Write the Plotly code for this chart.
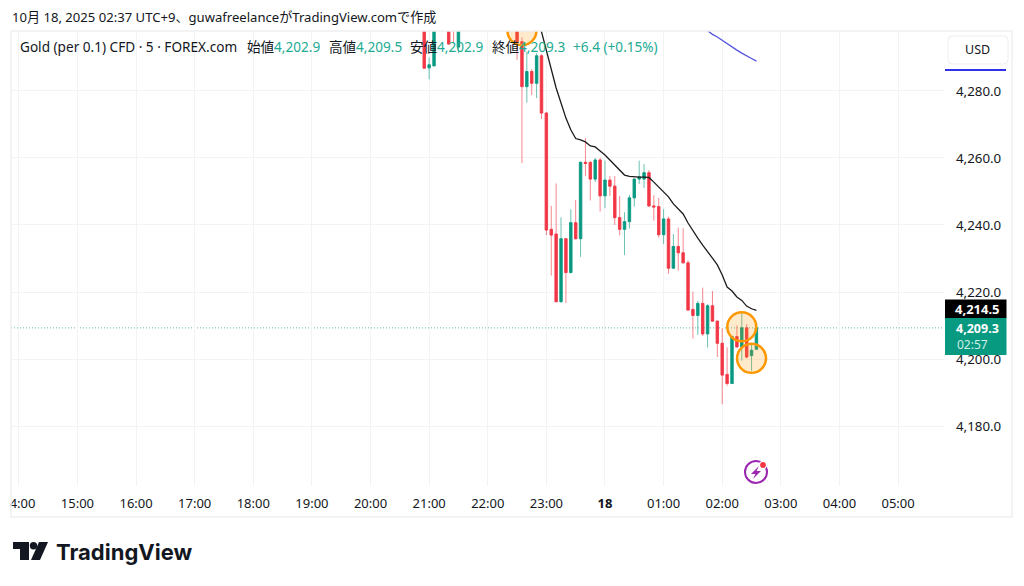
import plotly.graph_objects as go

# ---- data ----
candle_times = ["17 20:55","17 21:00","17 21:05","17 21:20","17 21:25","17 21:30","17 22:30","17 22:35","17 22:40","17 22:45","17 22:50","17 22:55",
 "17 23:00","17 23:05","17 23:10","17 23:15","17 23:20","17 23:25","17 23:30","17 23:35","17 23:40","17 23:45","17 23:50","17 23:55",
 "18 00:00","18 00:05","18 00:10","18 00:15","18 00:20","18 00:25","18 00:30","18 00:35","18 00:40","18 00:45","18 00:50","18 00:55",
 "18 01:00","18 01:05","18 01:10","18 01:15","18 01:20","18 01:25","18 01:30","18 01:35","18 01:40","18 01:45","18 01:50","18 01:55",
 "18 02:00","18 02:05","18 02:10","18 02:15","18 02:20","18 02:25","18 02:30","18 02:35"]
opens = [4310,4286.9,4287.5,4310,4305,4293.1,4310,4294.7,4281.3,4285.8,4282.3,4290.5,
 4273.4,4238.7,4237.3,4217.1,4235.9,4225.8,4240.7,4235.9,4258.7,4258.7,4253.7,4259.4,
 4248.7,4253.4,4251.6,4242.2,4238.7,4241.0,4248.1,4253.7,4253.7,4255.6,4245.7,4245.5,
 4237.1,4241.8,4227.1,4233.6,4231.7,4228.7,4214.8,4213.0,4216.6,4207.5,4215.9,4211.3,
 4204.7,4195.4,4192.7,4206.7,4203.6,4209.3,4201.0,4202.9]
highs = [4315,4290,4312,4312,4310,4310,4312,4296,4291.7,4286.5,4291.3,4291,
 4273.8,4245.7,4252.4,4242.3,4236,4244.7,4247.5,4258.9,4265.9,4259,4260,4260,
 4259.2,4254.6,4254.6,4248.7,4243.8,4249,4253.9,4259.2,4258.2,4256.4,4248.9,4248.1,
 4244.7,4242.5,4237.3,4239.2,4239.0,4229.5,4220.1,4217.3,4221.3,4216.4,4220.3,4211.5,
 4209.2,4203.5,4207,4210,4214.3,4210.4,4204.2,4209.5]
lows = [4286.8,4283.5,4287.3,4293.8,4294.3,4291.3,4289.3,4258.5,4276.5,4278.8,4277.9,4271.6,
 4237.0,4224.9,4217.0,4216.9,4216.7,4225.6,4235.7,4230.5,4254.6,4247.3,4252.8,4244.0,
 4245.0,4248.7,4240.0,4236.9,4231.0,4238.9,4245.5,4252.2,4251.0,4245.3,4241.3,4236.2,
 4234.3,4225.4,4227.0,4226.4,4228.6,4214.5,4206.1,4207.2,4206.9,4203.4,4211.2,4200.6,
 4186.5,4192.0,4192.6,4203.5,4199.5,4200.2,4196.5,4202.9]
closes = [4286.8,4287.8,4310,4294.0,4300,4308,4294.7,4281.3,4285.8,4282.3,4290.5,4273.4,
 4238.5,4237.0,4217.1,4235.9,4225.8,4240.7,4235.9,4258.7,4258.4,4253.7,4259.4,4248.7,
 4253.4,4251.6,4242.2,4238.7,4241.0,4248.1,4253.7,4254.4,4255.6,4245.7,4245.4,4237.1,
 4241.8,4227.1,4233.6,4231.7,4228.7,4214.6,4213.0,4216.6,4207.5,4215.9,4211.3,4204.7,
 4195.2,4192.7,4206.7,4203.6,4209.3,4200.6,4202.6,4209.3]

ma_black_times = ["17 22:50","17 22:55","17 23:00","17 23:05","17 23:10","17 23:15","17 23:20","17 23:25","17 23:30","17 23:35","17 23:40","17 23:45","17 23:50","17 23:55",
 "18 00:00","18 00:05","18 00:10","18 00:15","18 00:20","18 00:25","18 00:30","18 00:35","18 00:40","18 00:45","18 00:50","18 00:55",
 "18 01:00","18 01:05","18 01:10","18 01:15","18 01:20","18 01:25","18 01:30","18 01:35","18 01:40","18 01:45","18 01:50","18 01:55",
 "18 02:00","18 02:05","18 02:10","18 02:15","18 02:20","18 02:25","18 02:30","18 02:35"]
ma_black = [4303.3,4297.7,4291.3,4286.3,4280.9,4276.4,4271.9,4268.4,4265.8,4265.4,4264.8,4263.6,4263.3,4262.1,
 4260.9,4259.4,4257.9,4256.4,4254.9,4254.5,4254.3,4254.3,4254.3,4254.2,4252.8,4251.3,
 4250.1,4248.4,4246.3,4244.8,4243.3,4240.6,4238.2,4236.1,4234.0,4231.9,4230.1,4228.1,
 4225.1,4221.5,4220.3,4218.5,4217.5,4215.8,4215.0,4214.5]
ma_blue_times = ["18 01:40","18 01:45","18 01:50","18 01:55","18 02:00","18 02:05","18 02:10","18 02:15","18 02:20","18 02:25","18 02:30","18 02:35"]
ma_blue = [4299.1,4297.9,4296.9,4296.1,4295.1,4294.0,4293.1,4292.2,4291.3,4290.4,4289.7,4288.9]

circle_times = ["17 22:35","18 02:20","18 02:30"]
circle_prices = [4298.0,4209.6,4200.2]

price_ticks = [4180,4200,4220,4240,4260,4280]
hour_ticks = ["17 14:00","17 15:00","17 16:00","17 17:00","17 18:00","17 19:00","17 20:00","17 21:00","17 22:00","17 23:00",
              "18 00:00","18 01:00","18 02:00","18 03:00","18 04:00","18 05:00"]
hour_labels = ["14:00","15:00","16:00","17:00","18:00","19:00","20:00","21:00","22:00","23:00",
               "<b>18</b>","01:00","02:00","03:00","04:00","05:00"]

title_text = "10月 18, 2025 02:37 UTC+9、guwafreelanceがTradingView.comで作成"
symbol_text = "Gold (per 0.1) CFD · 5 · FOREX.com"
ohlc_labels = ["始値","高値","安値","終値"]
ohlc_values = ["4,202.9","4,209.5","4,202.9","4,209.3"]
change_text = "+6.4 (+0.15%)"
last_price = 4209.3

# ---- style ----
RED, GREEN = "#f23645", "#089981"
INK = "#131722"
FONT = "Noto Sans, Noto Sans CJK JP, sans-serif"
L, R, T, B = 11, 944, 31, 486   # plot box in page pixels
W, H = 1024, 586

def d(s):
    return "2025-10-" + s
def px(x):
    return (x - L) / (R - L)
def py(y):
    return (B - y) / (B - T)

fig = go.Figure()
t = [d(s) for s in candle_times]
fig.add_trace(go.Candlestick(x=t, open=opens, high=highs, low=lows, close=closes, whiskerwidth=0,
    increasing=dict(line=dict(color="rgba(8,153,129,0.6)", width=1), fillcolor="rgba(0,0,0,0)"),
    decreasing=dict(line=dict(color="rgba(242,54,69,0.6)", width=1), fillcolor="rgba(0,0,0,0)"),
    hoverinfo="skip", showlegend=False))
fig.add_trace(go.Candlestick(x=t, open=opens, close=closes,
    high=[max(o, c) for o, c in zip(opens, closes)], low=[min(o, c) for o, c in zip(opens, closes)],
    whiskerwidth=0,
    increasing=dict(line=dict(color=GREEN, width=0.6), fillcolor=GREEN),
    decreasing=dict(line=dict(color=RED, width=0.6), fillcolor=RED),
    hoverinfo="skip", showlegend=False))
fig.add_trace(go.Scatter(x=[d(s) for s in ma_blue_times], y=ma_blue, mode="lines",
    line=dict(color="#5555e0", width=1.3), hoverinfo="skip", showlegend=False))
fig.add_trace(go.Scatter(x=[d(s) for s in ma_black_times], y=ma_black, mode="lines",
    line=dict(color="#1c1c1c", width=1.3), hoverinfo="skip", showlegend=False))
fig.add_trace(go.Scatter(x=[d(s) for s in circle_times], y=circle_prices, mode="markers",
    marker=dict(size=29, color="rgba(255,152,0,0.2)", line=dict(color="#ff9800", width=2.5)),
    hoverinfo="skip", showlegend=False))

def rect(x0, y0, x1, y1, fill="rgba(0,0,0,0)", line=None, lw=0):
    return dict(type="rect", xref="paper", yref="paper", x0=px(x0), x1=px(x1), y0=py(y0), y1=py(y1),
                fillcolor=fill, line=dict(color=line or "rgba(0,0,0,0)", width=lw), layer="above")
def poly(points, fill):
    p = "M" + " L".join(f"{px(x):.5f},{py(y):.5f}" for x, y in points) + " Z"
    return dict(type="path", xref="paper", yref="paper", path=p, fillcolor=fill, line=dict(width=0), layer="above")
def circ(cx, cy, r, fill="rgba(0,0,0,0)", line=None, lw=0):
    return dict(type="circle", xref="paper", yref="paper", x0=px(cx-r), x1=px(cx+r), y0=py(cy+r), y1=py(cy-r),
                fillcolor=fill, line=dict(color=line or "rgba(0,0,0,0)", width=lw), layer="above")

shapes = [
    rect(0, 490, L-1, 516, fill="white"),                  # cuts the first hour label at the pane edge
    rect(L, 31, 1012, 517, line="#efefef", lw=1.5),
    dict(type="line", xref="paper", yref="y", x0=0, x1=1, y0=last_price, y1=last_price,
         line=dict(color="rgba(8,153,129,0.65)", width=1, dash="1px,2px"), layer="below"),
    rect(945, 299.5, 1006.5, 318, fill="#000000"),
    rect(945, 318, 1006.5, 355, fill=GREEN),
    rect(945, 69, 1006, 71, fill="#3030e6"),
    dict(type="path", xref="paper", yref="paper",
         path=f"M{px(952)},{py(36)} L{px(1004)},{py(36)} Q{px(1008)},{py(36)} {px(1008)},{py(40)} "
              f"L{px(1008)},{py(60)} Q{px(1008)},{py(64)} {px(1004)},{py(64)} L{px(952)},{py(64)} "
              f"Q{px(948)},{py(64)} {px(948)},{py(60)} L{px(948)},{py(40)} Q{px(948)},{py(36)} {px(952)},{py(36)} Z",
         fillcolor="white", line=dict(color="#eeeeee", width=1), layer="above"),
    # TradingView mark
    poly([(13,542),(29,542),(29,560),(20,560),(20,549),(13,549)], INK),
    circ(33.5, 545.7, 3.7, fill=INK),
    poly([(39,542),(48,542),(40,560),(31,560)], INK),
    # lightning badge
    circ(756, 472, 11, line="#9c27b0", lw=2),
    poly([(759,466),(751,474),(755.5,474),(753,479),(761,471),(756.5,471)], "#9c27b0"),
    circ(763, 465, 4.2, fill="white"),
    circ(763, 465, 2.9, fill=RED),
]

def note(x, y, text, color=INK, size=13.6, anchor="left", bold=False, family=FONT):
    return dict(xref="paper", yref="paper", x=px(x), y=py(y), text=f"<b>{text}</b>" if bold else text,
                showarrow=False, xanchor=anchor, yanchor="middle", align=anchor,
                font=dict(color=color, size=size, family=family), borderpad=0, borderwidth=0)

TEAL = "#22ab94"
notes = [
    note(12, 17, title_text, size=13.1),
    note(20, 47, symbol_text),
    note(573, 47, change_text, color=TEAL),
    note(978, 50, "USD", size=12.5, anchor="center"),
    note(978, 309, "4,214.5", color="white", anchor="center", bold=True, size=13),
    note(978, 328, "4,209.3", color="white", anchor="center", bold=True, size=12.5),
    note(972, 344.5, "02:57", color="#cfeee8", anchor="center", size=12),
    note(56, 552, "TradingView", size=22, family="Inter, Lato, sans-serif", bold=True),
]
for lx, vx, lab, val in zip([247, 329, 410, 491.5], [274, 356, 437, 519], ohlc_labels, ohlc_values):
    notes.append(note(lx, 47, lab))
    notes.append(note(vx, 47, val, color=TEAL))

fig.update_layout(
    width=W, height=H, autosize=False,
    margin=dict(l=L, r=W-R, t=T, b=H-B, pad=0, autoexpand=False),
    paper_bgcolor="white", plot_bgcolor="white",
    font=dict(family=FONT, color=INK, size=13),
    showlegend=False, shapes=shapes, annotations=notes,
    xaxis=dict(type="date", range=[d("17 13:52"), d("18 05:47")], rangeslider=dict(visible=False),
               tickmode="array", tickvals=[d(s) for s in hour_ticks], ticktext=hour_labels,
               showgrid=True, gridcolor="#f3f3f3", gridwidth=1, ticks="", ticklen=0, zeroline=False, showline=False,
               tickfont=dict(size=13, color=INK), ticklabelstandoff=8, tickangle=0),
    yaxis=dict(side="right", range=[4162.1, 4297.9], tickmode="array", tickvals=price_ticks, tickformat=",.1f",
               showgrid=True, gridcolor="#f3f3f3", gridwidth=1, ticks="", ticklen=0, zeroline=False, showline=False,
               tickfont=dict(size=13.3, color=INK), ticklabelstandoff=11),
)

fig.write_html("out.html", post_script="document.body.style.margin='0';document.body.style.overflow='hidden';",
               config=dict(displayModeBar=False))
